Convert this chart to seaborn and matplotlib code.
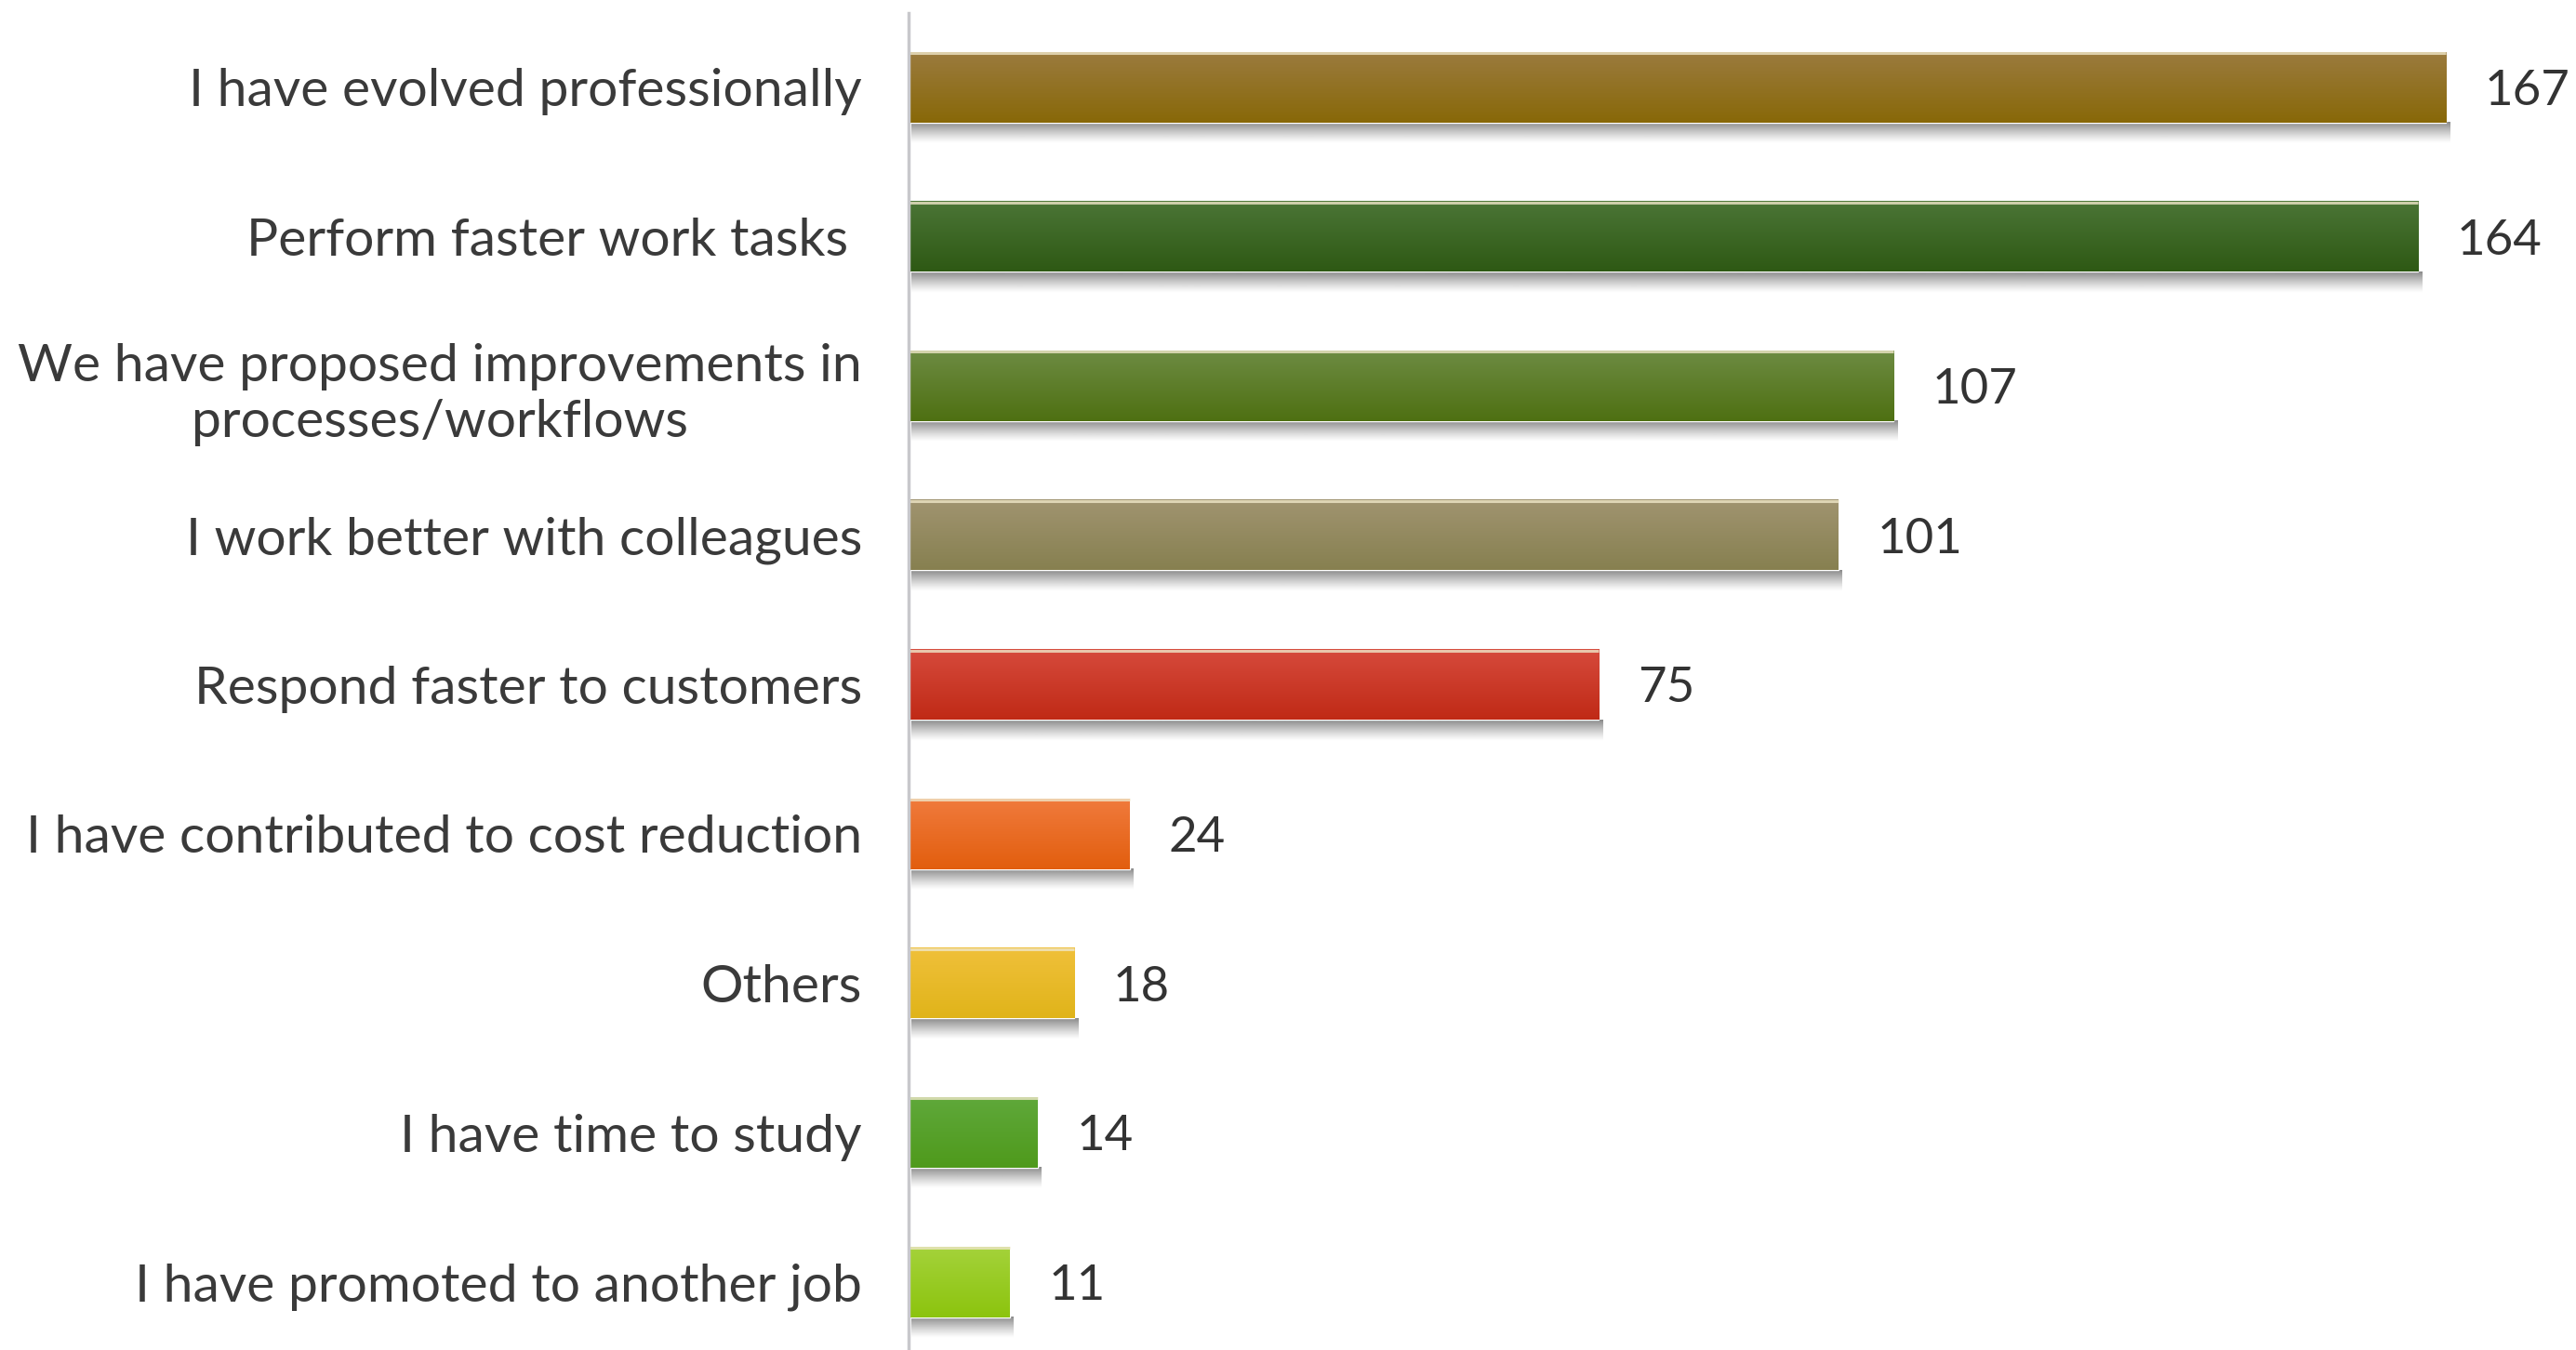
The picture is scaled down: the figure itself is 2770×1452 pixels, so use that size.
import numpy as np
import pandas as pd
import matplotlib
matplotlib.use("Agg")
import matplotlib.pyplot as plt
from matplotlib.colors import to_rgb
import seaborn as sns

# Survey answers and counts
categories = [
    "I have evolved professionally",
    "Perform faster work tasks ",
    "We have proposed improvements in\nprocesses/workflows",
    "I work better with colleagues",
    "Respond faster to customers",
    "I have contributed to cost reduction",
    "Others",
    "I have time to study",
    "I have promoted to another job",
]
counts = [167, 164, 107, 101, 75, 24, 18, 14, 11]

# Bar colours: (top of gradient, bottom of gradient)
top_colors = ["#9b7b3e", "#4b7536", "#6d8b42", "#a09470", "#d64a3c",
              "#f07a3c", "#f0c03a", "#5fa83a", "#a4d23a"]
bottom_colors = ["#886808", "#2e5914", "#4e7012", "#878050", "#c02a16",
                 "#e25e0e", "#e0b41a", "#4f9a1c", "#8cc40e"]

sns.set_theme(style="white")
plt.rcParams["font.family"] = ["Lato", "DejaVu Sans"]

df = pd.DataFrame({"answer": categories, "count": counts})

fig = plt.figure(figsize=(27.70, 14.52), dpi=100)
ax = fig.add_axes([0.3527, 0.0, 0.6075, 1.0])

sns.barplot(data=df, y="answer", x="count", hue="answer",
            palette=bottom_colors, orient="h", width=0.47,
            legend=False, ax=ax, saturation=1.0)

ylim = (8.456, -0.585)
xlim = (0, 170)

# Vertical gradient fill and soft drop shadow for each bar
for patch, ct, cb in zip(ax.patches, top_colors, bottom_colors):
    x0, y0 = patch.get_x(), patch.get_y()
    w, h = patch.get_width(), patch.get_height()
    t = np.linspace(0, 1, 64)[:, None]
    c1, c2 = np.array(to_rgb(ct)), np.array(to_rgb(cb))
    grad = (1 - t) * c1 + t * c2
    grad = grad[:, None, :]
    ax.imshow(grad, extent=[x0, x0 + w, y0 + h, y0], aspect="auto",
              interpolation="bilinear", zorder=patch.get_zorder() + 0.1)
    # thin highlight along the top edge
    ax.plot([x0, x0 + w], [y0 + 0.006, y0 + 0.006], color="#efe6c8",
            lw=2.2, alpha=0.8, zorder=patch.get_zorder() + 0.2,
            solid_capstyle="butt")
    # shadow underneath
    sh = 0.14
    a = np.linspace(0.8, 0.0, 48) ** 1.2
    shade = np.zeros((48, 1, 4))
    shade[..., 0:3] = 0.40
    shade[:, 0, 3] = a
    ax.imshow(shade, extent=[x0 + 0.3, x0 + w + 0.4, y0 + h + sh, y0 + h],
              aspect="auto", interpolation="bilinear",
              zorder=patch.get_zorder() - 0.1)

for cont in ax.containers:
    texts = ax.bar_label(cont, padding=30, fontsize=38, color="#333333")
    for tx in texts:
        tx.set_verticalalignment("center_baseline")

ax.set_xlim(*xlim)
ax.set_ylim(*ylim)
ax.set_xlabel("")
ax.set_ylabel("")
ax.set_xticks([])
ax.tick_params(axis="y", length=0, pad=36, labelsize=41, labelcolor="#3a3a3a")
for lbl in ax.get_yticklabels():
    lbl.set_multialignment("center")
    lbl.set_linespacing(1.22)

for side in ["top", "right", "bottom"]:
    ax.spines[side].set_visible(False)
ax.spines["left"].set_color("#c8c8cc")
ax.spines["left"].set_linewidth(2.5)
ax.spines["left"].set_bounds(8.456, -0.5)
ax.patch.set_alpha(0)

fig.savefig("out.png", dpi=100, facecolor="white")
